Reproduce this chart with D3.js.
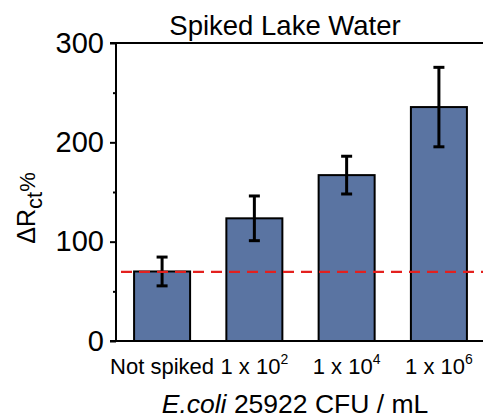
<!DOCTYPE html>
<html><head><meta charset="utf-8">
<script src="https://cdn.jsdelivr.net/npm/d3@7"></script>
<style>html,body{margin:0;padding:0;background:#fff;overflow:hidden}</style>
</head><body>
<svg id="c" width="483" height="418"></svg>
<script>
const categories = ["Not spiked", "1 x 10^2", "1 x 10^4", "1 x 10^6"];
const values = [70, 123.5, 167, 235.5];
const errors = [14.5, 22.5, 19, 40];
const thresholdValue = 69.5;
const yTicks = [0, 100, 200, 300];
const yMinorTicks = [50, 150, 250];

(function () {
const svg = d3.select("#c");
const font = "'Liberation Sans', Arial, sans-serif";
const mL = 116, mR = 485, mT = 43, mB = 341;

const x = d3.scaleBand().domain(categories).range([mL, mR]).paddingInner(0.393).paddingOuter(0.196);
const y = d3.scaleLinear().domain([0, 300]).range([mB, mT]);

// bars
svg.append("g").selectAll("rect").data(values).join("rect")
  .attr("x", (d, i) => x(categories[i]))
  .attr("y", d => y(d))
  .attr("width", x.bandwidth())
  .attr("height", d => y(0) - y(d))
  .attr("fill", "#5a74a2")
  .attr("stroke", "#000")
  .attr("stroke-width", 2);

// error bars
const eb = svg.append("g").attr("stroke", "#000").attr("stroke-width", 3);
values.forEach((v, i) => {
  const cx = x(categories[i]) + x.bandwidth() / 2;
  eb.append("line").attr("x1", cx).attr("x2", cx).attr("y1", y(v + errors[i])).attr("y2", y(v - errors[i]));
  eb.append("line").attr("x1", cx - 5.5).attr("x2", cx + 5.5).attr("y1", y(v + errors[i])).attr("y2", y(v + errors[i]));
  eb.append("line").attr("x1", cx - 5.5).attr("x2", cx + 5.5).attr("y1", y(v - errors[i])).attr("y2", y(v - errors[i]));
});

// threshold line
svg.append("line")
  .attr("x1", 121).attr("x2", mR)
  .attr("y1", y(thresholdValue)).attr("y2", y(thresholdValue))
  .attr("stroke", "#e3201e").attr("stroke-width", 2.2)
  .attr("stroke-dasharray", "11,7");

// y axis
const yAxis = d3.axisLeft(y).tickValues(yTicks).tickSize(6).tickPadding(6);
const ga = svg.append("g").attr("transform", `translate(${mL},0)`).call(yAxis);
ga.select(".domain").remove();
ga.selectAll(".tick line").attr("stroke", "#000").attr("stroke-width", 2);
ga.selectAll(".tick text").attr("font-family", font).attr("font-size", 29).attr("fill", "#000");
const yMinor = d3.axisLeft(y).tickValues(yMinorTicks).tickSize(3).tickFormat("");
const gm = svg.append("g").attr("transform", `translate(${mL},0)`).call(yMinor);
gm.select(".domain").remove();
gm.selectAll(".tick line").attr("stroke", "#000").attr("stroke-width", 2);

// spines
svg.append("line").attr("x1", mL).attr("x2", mL).attr("y1", mT).attr("y2", mB).attr("stroke", "#000").attr("stroke-width", 2);
svg.append("line").attr("x1", 110).attr("x2", 483).attr("y1", y(300)).attr("y2", y(300)).attr("stroke", "#000").attr("stroke-width", 2);
svg.append("line").attr("x1", 110).attr("x2", 483).attr("y1", y(0)).attr("y2", y(0)).attr("stroke", "#000").attr("stroke-width", 2);

// x category labels
categories.forEach((c, i) => {
  const cx = x(c) + x.bandwidth() / 2;
  const t = svg.append("text").attr("x", cx).attr("y", 374).attr("text-anchor", "middle")
    .attr("font-family", font).attr("font-size", 22).attr("fill", "#000");
  if (c.includes("^")) {
    const [base, exp] = c.split("^");
    t.append("tspan").text(base);
    t.append("tspan").attr("font-size", 14).attr("dy", -10).text(exp);
  } else {
    t.text(c);
  }
});

// title
svg.append("text").attr("x", 285).attr("y", 35).attr("text-anchor", "middle")
  .attr("font-family", font).attr("font-size", 27.5).attr("fill", "#000").text("Spiked Lake Water");

// x axis title
const xt = svg.append("text").attr("x", 295).attr("y", 413).attr("text-anchor", "middle")
  .attr("font-family", font).attr("font-size", 26.5).attr("fill", "#000");
xt.append("tspan").attr("font-style", "italic").text("E.coli");
xt.append("tspan").text(" 25922 CFU / mL");

// y axis title
const yt = svg.append("text").attr("transform", "translate(35,208) rotate(-90)").attr("text-anchor", "middle")
  .attr("font-family", font).attr("font-size", 25).attr("fill", "#000");
yt.append("tspan").text("ΔR");
yt.append("tspan").attr("font-size", 22).attr("dy", 7).text("ct");
yt.append("tspan").attr("font-size", 22).attr("dy", -7).text("%");
})();
</script>
</body></html>
